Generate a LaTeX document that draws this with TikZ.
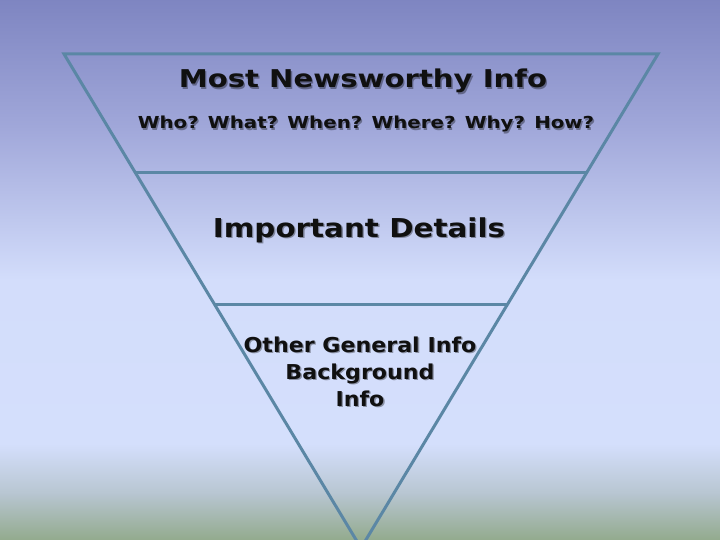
\documentclass[tikz,border=0pt]{standalone}
\usepackage{fontspec}
\setmainfont{DejaVu Sans}
\usetikzlibrary{calc}
\definecolor{edge}{HTML}{5B87A5}
\definecolor{bgA}{HTML}{7E85C1}
\definecolor{bgB}{HTML}{A1A8DA}
\definecolor{bgC}{HTML}{D3DDFB}
\definecolor{bgD}{HTML}{D4DFFC}
\definecolor{bgE}{HTML}{B7C5D0}
\definecolor{bgF}{HTML}{92AA8C}
\definecolor{txt}{HTML}{101010}
\tikzset{
  lbl/.style={text=txt, anchor=base, inner sep=0pt},
  shadowlbl/.style={text=black, opacity=0.35, anchor=base, inner sep=0pt},
  tri/.style={draw=edge, line width=3pt, line join=miter},
}
% #1 coordinate, #2 font size, #3 horizontal stretch, #4 text
\newcommand{\shtext}[4]{%
  \node[shadowlbl, font=\fontsize{#2}{#2}\selectfont\bfseries] at ($(#1)+(1.3,1.3)$) {\scalebox{#3}[1]{#4}};
  \node[lbl, font=\fontsize{#2}{#2}\selectfont\bfseries] (#1n) at (#1) {\scalebox{#3}[1]{#4}};}
\begin{document}
\begin{tikzpicture}[x=1pt,y=-1pt]
\useasboundingbox (0,0) rectangle (720,540);
\clip (0,0) rectangle (720,540);
\shade[top color=bgA, bottom color=bgB] (0,-1) rectangle (720,130);
\shade[top color=bgB, bottom color=bgC] (0,129) rectangle (720,280);
\shade[top color=bgC, bottom color=bgD] (0,279) rectangle (720,445);
\shade[top color=bgD, bottom color=bgE] (0,444) rectangle (720,495);
\shade[top color=bgE, bottom color=bgF] (0,494) rectangle (720,541);
\coordinate (TL) at (64,54);
\coordinate (TR) at (658,54);
\coordinate (AP) at (361,548);
\coordinate (L1) at ($(TL)!0.2389!(AP)$);
\coordinate (R1) at ($(TR)!0.2389!(AP)$);
\coordinate (L2) at ($(TL)!0.5063!(AP)$);
\coordinate (R2) at ($(TR)!0.5063!(AP)$);
\draw[tri] (TL) -- (TR) -- (AP) -- cycle;
\draw[tri] (L1) -- (R1);
\draw[tri] (L2) -- (R2);
\coordinate (t1) at (363,88);
\coordinate (t2) at (366,129);
\coordinate (t3) at (359,237);
\coordinate (t4) at (360,352);
\coordinate (t5) at (360,379);
\coordinate (t6) at (360,406);
\shtext{t1}{24.5}{1.19}{Most Newsworthy Info}
\shtext{t2}{16.5}{1.2}{Who? What? When? Where? Why? How?}
\shtext{t3}{26}{1.13}{Important Details}
\shtext{t4}{20.5}{1.08}{Other General Info}
\shtext{t5}{20.5}{1.08}{Background}
\shtext{t6}{20.5}{1.08}{Info}
\end{tikzpicture}
\end{document}
